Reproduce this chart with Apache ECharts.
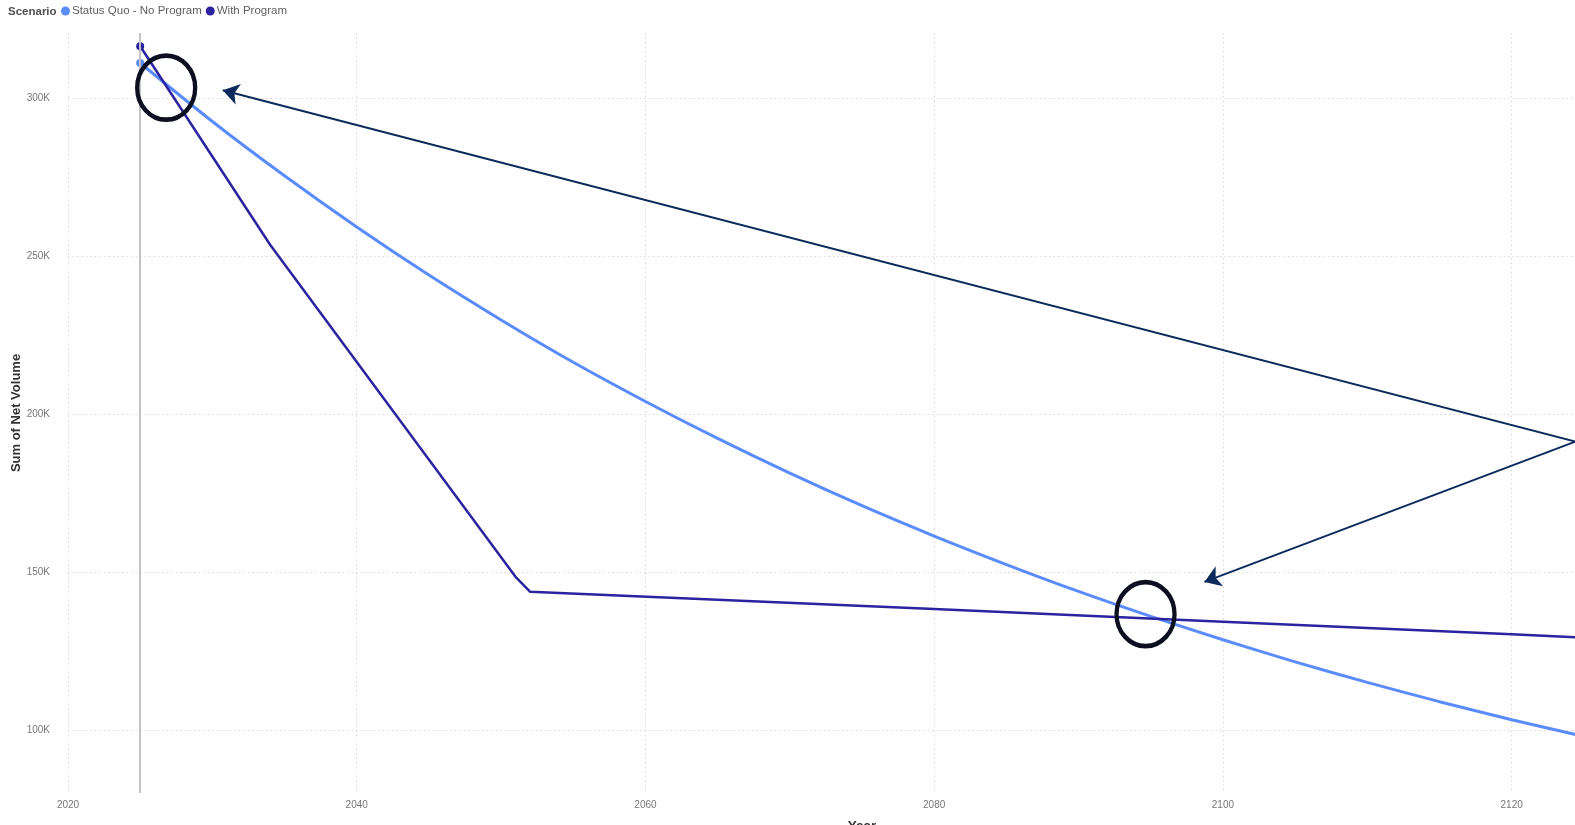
<!DOCTYPE html>
<html>
<head>
<meta charset="utf-8">
<script src="https://cdn.jsdelivr.net/npm/echarts@6/dist/echarts.min.js"></script>
<style>
html,body{margin:0;padding:0;background:#ffffff;}
#chart{width:1575px;height:825px;}
</style>
</head>
<body>
<div id="chart"></div>
<script>
// ---- data ----
const legendTitle = 'Scenario';
const seriesNames = ['Status Quo - No Program', 'With Program'];

const statusQuoYears = [2025, 2030, 2035, 2040, 2045, 2050, 2055, 2060, 2065, 2070, 2075,
                        2080, 2085, 2090, 2095, 2100, 2105, 2110, 2115, 2120, 2125];
const statusQuoValues = [311000, 292500, 275300, 259100, 243900, 229700, 216300, 203900, 192200, 181200, 170900,
                         161300, 152300, 143800, 135900, 128500, 121500, 115000, 108900, 103200, 97900];

const withProgramYears = [2025, 2034, 2051, 2052, 2080, 2100, 2120, 2125];
const withProgramValues = [316300, 253500, 148400, 143700, 138200, 134200, 130200, 129200];

const xTickYears = [2020, 2040, 2060, 2080, 2100, 2120];
const yTickValues = [100000, 150000, 200000, 250000, 300000];

const referenceYear = 2025;

// annotations (data coordinates)
const circleCenters = [[2026.8, 303200], [2094.64, 136600]];
const arrowStarts = [[2124.41, 191200], [2124.41, 191200]];
const arrowEnds = [[2030.72, 302400], [2098.72, 146800]];

// ---- chart ----
const FONT = '"Liberation Sans", Arial, sans-serif';
const C_SQ = '#5a8cff';
const C_WP = '#2b23a0';

function buildData(xs, ys) {
  return xs.map((x, i) => i === 0
    ? { value: [x, ys[i]], symbol: 'circle', symbolSize: 8 }
    : { value: [x, ys[i]], symbol: 'none' });
}

const chart = echarts.init(document.getElementById('chart'), null, { renderer: 'canvas' });

const option = {
  animation: false,
  backgroundColor: '#ffffff',
  title: {
    text: legendTitle,
    left: 8,
    top: 5,
    padding: 0,
    textStyle: { fontFamily: FONT, fontSize: 11.5, fontWeight: 'bold', color: '#4f4f4f', lineHeight: 14 }
  },
  legend: {
    data: seriesNames,
    left: 61,
    top: 5,
    padding: 0,
    icon: 'circle',
    itemWidth: 9,
    itemHeight: 9,
    itemGap: 4,
    textStyle: { fontFamily: FONT, fontSize: 11.5, color: '#5f5f5f', padding: [0, 0, 0, -3] }
  },
  grid: {
    left: 68,
    right: -81,
    top: 33,
    bottom: 32,
    containLabel: false,
    outerBoundsMode: 'none'
  },
  xAxis: {
    type: 'value',
    min: xTickYears[0],
    max: 2130,
    interval: 20,
    name: 'Year',
    nameLocation: 'middle',
    nameGap: 26,
    nameMoveOverlap: false,
    nameTextStyle: { fontFamily: FONT, fontSize: 13.5, fontWeight: 'bold', color: '#333333' },
    axisLine: { show: false },
    axisTick: { show: false },
    axisLabel: {
      fontFamily: FONT, fontSize: 10, color: '#777777', margin: 7,
      formatter: v => xTickYears.indexOf(v) >= 0 ? String(v) : ''
    },
    splitLine: {
      show: true, showMinLine: true, showMaxLine: false,
      lineStyle: { type: [1.5, 3], color: '#d9d9d9', width: 1 }
    }
  },
  yAxis: {
    type: 'value',
    min: 80000,
    max: 320500,
    splitNumber: 5,
    name: 'Sum of Net Volume',
    nameLocation: 'middle',
    nameGap: 45,
    nameMoveOverlap: false,
    nameTextStyle: { fontFamily: FONT, fontSize: 13, fontWeight: 'bold', color: '#333333' },
    axisLine: { show: false },
    axisTick: { show: false },
    axisLabel: {
      fontFamily: FONT, fontSize: 10, color: '#777777', margin: 18,
      showMinLabel: false, showMaxLabel: false,
      formatter: v => yTickValues.indexOf(v) >= 0 ? (v / 1000) + 'K' : ''
    },
    splitLine: {
      show: true, showMinLine: false, showMaxLine: false,
      lineStyle: { type: [1.5, 3], color: '#d9d9d9', width: 1 }
    }
  },
  series: [
    {
      name: seriesNames[0],
      type: 'line',
      data: buildData(statusQuoYears, statusQuoValues),
      smooth: 0.3,
      showAllSymbol: true,
      color: C_SQ,
      itemStyle: { color: C_SQ },
      lineStyle: { color: C_SQ, width: 3 },
      z: 3,
      markLine: {
        silent: true,
        symbol: ['none', 'none'],
        label: { show: false },
        lineStyle: { color: '#c4c4c4', width: 2, type: 'solid' },
        data: [{ xAxis: referenceYear }]
      }
    },
    {
      name: seriesNames[1],
      type: 'line',
      data: buildData(withProgramYears, withProgramValues),
      showAllSymbol: true,
      color: C_WP,
      itemStyle: { color: C_WP },
      lineStyle: { color: C_WP, width: 2.5 },
      z: 4
    },
    {
      name: 'annotations',
      type: 'line',
      data: [],
      z: 10,
      clip: false,
      markPoint: {
        silent: true,
        symbol: 'circle',
        symbolSize: [58, 64],
        label: { show: false },
        itemStyle: { color: 'rgba(0,0,0,0)', borderColor: '#0b0f20', borderWidth: 4.5 },
        data: circleCenters.map(c => ({ coord: c }))
      },
      markLine: {
        silent: true,
        symbol: ['none', 'arrow'],
        symbolSize: 16,
        label: { show: false },
        lineStyle: { color: '#0c2b5c', width: 2, type: 'solid' },
        itemStyle: { color: '#0c2b5c' },
        data: arrowStarts.map((s, i) => [{ coord: s }, { coord: arrowEnds[i] }])
      }
    }
  ]
};

chart.setOption(option);
</script>
</body>
</html>
